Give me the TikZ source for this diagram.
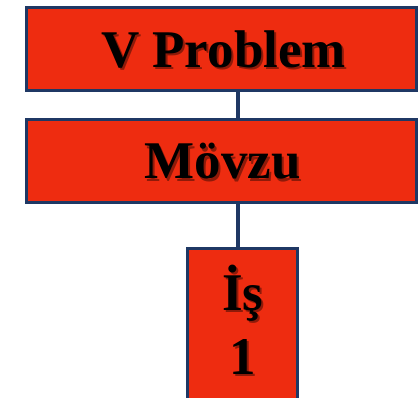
\documentclass[tikz,border=0pt]{standalone}
\usepackage{fontspec}
\setmainfont{Liberation Serif}
\definecolor{boxred}{RGB}{238,44,16}
\definecolor{boxblue}{RGB}{31,56,100}
\begin{document}
\begin{tikzpicture}[x=1pt,y=1pt,
  box/.style={draw=boxblue,line width=3pt,fill=boxred,inner sep=0pt},
  lbl/.style={font=\fontsize{53}{64}\selectfont\bfseries,text=black,align=center,inner sep=0pt},
  shd/.style={font=\fontsize{53}{64}\selectfont\bfseries,text=black,opacity=0.4,align=center,inner sep=0pt},
  conn/.style={draw=boxblue,line width=4pt}]
\useasboundingbox (0,0) rectangle (419,-397);
\clip (0,0) rectangle (419,-397);
\node[box,minimum width=390,minimum height=83] (b1) at (221.5,-49) {};
\node[box,minimum width=390,minimum height=83] (b2) at (221.5,-161) {};
\node[box,minimum width=110,minimum height=172] (b3) at (242.5,-334.5) {};
\coordinate (cx) at (238,0);
\draw[conn] (b1.south -| cx) -- (b2.north -| cx);
\draw[conn] (b2.south -| cx) -- (b3.north -| cx);
% text shadows
\node[shd] (s1) at (225.5,-52) {V Problem};
\node[shd] (s2) at (224.5,-164) {Mövzu};
\node[shd] (s3) at (245,-322) {İş\\1};
% texts
\node[lbl] (t1) at (223.5,-49.5) {V Problem};
\node[lbl] (t2) at (222.5,-161.5) {Mövzu};
\node[lbl] (t3) at (243,-319.5) {İş\\1};
\end{tikzpicture}
\end{document}
